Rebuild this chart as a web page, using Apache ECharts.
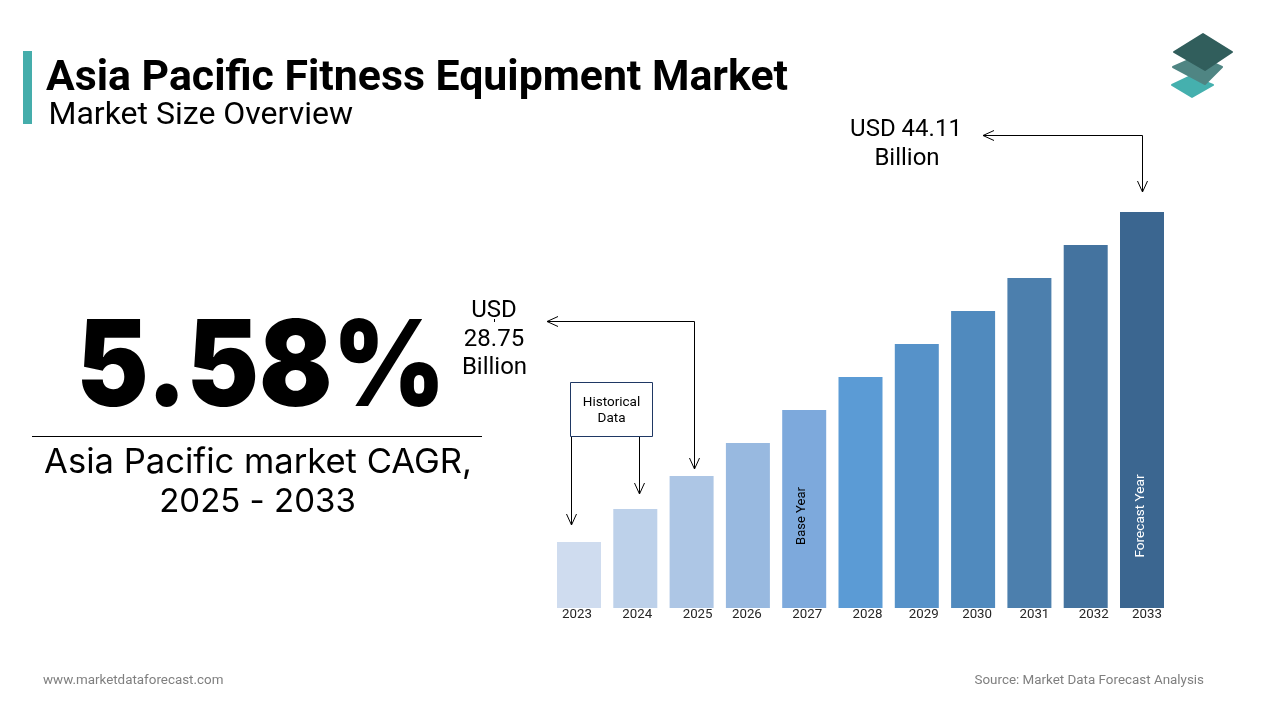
<!DOCTYPE html>
<html>
<head>
<meta charset="utf-8">
<title>Asia Pacific Fitness Equipment Market</title>
<style>
	html, body { margin: 0; padding: 0; background: #fff; }
	#chart { width: 1280px; height: 720px; }
</style>
<script src="https://cdn.jsdelivr.net/npm/echarts@6/dist/echarts.min.js"></script>
</head>
<body>
<div id="chart"></div>
<script>
// values (bars have no printed scale, so relative heights)
var years = ['2023', '2024', '2025', '2026', '2027', '2028', '2029', '2030', '2031', '2032', '2033'];
var marketSize = [66, 99, 132, 165, 198, 231, 264, 297, 330, 363, 396];
var barColors = ['#CFDCEF', '#BDD1EA', '#ADC6E5', '#98B9E0', '#7DA9DC', '#5B9BD5', '#5692C9', '#508ABE', '#4C7FAD', '#44739F', '#3B6690'];
// year labels sit a little off centre in the original
var labelNudge = [-2, 2, 6, -1, 3, 7, 7, 4, 5, 8, 5];

var FONT = 'Roboto';
var BIG_FONT = 'Inter';

function text(x, y, str, size, opt) {
	opt = opt || {};
	return {
		type: 'text',
		x: x,
		y: y,
		scaleX: opt.scaleX || 1,
		rotation: opt.rotation || 0,
		z: 10,
		style: {
			text: str,
			fontFamily: opt.font || FONT,
			fontSize: size,
			fontWeight: opt.weight || 'normal',
			fill: opt.color || '#000',
			align: opt.align || 'center',
			verticalAlign: 'middle'
		}
	};
}

function line(points, color) {
	return {
		type: 'polyline',
		z: 9,
		shape: { points: points },
		style: { stroke: color || '#000', lineWidth: 1, fill: null }
	};
}

// open arrow head, dir is the way it points
function head(x, y, dir) {
	var pts = dir == 'down'
		? [[x - 5, y - 11], [x, y], [x + 5, y - 11]]
		: [[x + 11, y - 5], [x, y], [x + 11, y + 5]];
	return line(pts);
}

function plate(points, color) {
	return {
		type: 'polygon',
		z: 5,
		shape: { points: points },
		style: { fill: color, stroke: color, lineWidth: 2, lineJoin: 'round' }
	};
}

var graphics = [
	// heading
	{ type: 'rect', shape: { x: 23, y: 51, width: 9, height: 73 }, style: { fill: '#45ADAB' } },
	text(46, 79, 'Asia Pacific Fitness Equipment Market', 42.8, { weight: 'bold', align: 'left' }),
	text(48.5, 116, 'Market Size Overview', 32, { align: 'left' }),

	// logo
	plate([[1191, 76], [1213, 85], [1192, 97], [1172, 85]], '#45B0AE'),
	plate([[1198, 56], [1222, 67], [1205, 84], [1173, 67]], '#4F8583'),
	plate([[1203, 34], [1232, 52], [1205, 70], [1174, 52]], '#315E5C'),

	// CAGR block
	text(261, 370, '5.58%', 119, { font: BIG_FONT, weight: 900, scaleX: 0.91 }),
	line([[32, 436.5], [482, 436.5]]),
	text(258, 463, 'Asia Pacific market CAGR,', 34.6, { font: BIG_FONT }),
	text(257.5, 502, '2025 - 2033', 33, { font: BIG_FONT }),

	// callouts
	text(906, 130, 'USD 44.11', 24),
	text(907, 159, 'Billion', 24),
	line([[983, 135.5], [1142.5, 135.5], [1142.5, 192]]),
	head(983, 135.5, 'left'),
	head(1142.5, 192, 'down'),

	text(494, 311, 'USD', 24),
	text(494, 340, '28.75', 24),
	text(494.5, 368, 'Billion', 24),
	line([[494.5, 319], [494.5, 322]]),
	line([[547, 321.5], [694.5, 321.5], [694.5, 469]]),
	head(547, 321.5, 'left'),
	head(694.5, 469, 'down'),

	// historical data box
	{
		type: 'rect',
		z: 9,
		shape: { x: 570.5, y: 382.5, width: 82, height: 54 },
		style: { fill: '#fff', stroke: '#1F3864', lineWidth: 1 }
	},
	text(611.5, 403, 'Historical', 13.5),
	text(611.5, 419, 'Data', 13.5),
	line([[571.5, 437], [571.5, 525]]),
	head(571.5, 525, 'down'),
	line([[639.5, 437], [639.5, 494]]),
	head(639.5, 494, 'down'),

	// notes inside the bars
	text(802, 516, 'Base Year', 13, { rotation: Math.PI / 2 }),
	text(1141, 516, 'Forecast Year', 13.6, { rotation: Math.PI / 2, color: '#fff' }),

	// footer
	text(43, 681, 'www.marketdataforecast.com', 13.4, { align: 'left', color: '#7F7F7F' }),
	text(1204, 681, 'Source: Market Data Forecast Analysis', 13.4, { align: 'right', color: '#7F7F7F' })
];

var yearStyles = {};
for (var i = 0; i < years.length; i++) {
	var nudge = labelNudge[i] * 2;
	yearStyles['y' + i] = {
		fontFamily: FONT,
		fontSize: 13.3,
		color: '#262626',
		padding: nudge > 0 ? [0, 0, 0, nudge] : [0, -nudge, 0, 0]
	};
}

var chart = echarts.init(document.getElementById('chart'), null, { renderer: 'canvas' });
chart.setOption({
	animation: false,
	backgroundColor: '#fff',
	graphic: graphics,
	grid: { left: 550.85, top: 212, width: 619.3, height: 396 },
	xAxis: {
		type: 'category',
		data: years,
		axisLine: { show: false },
		axisTick: { show: false },
		axisLabel: {
			interval: 0,
			margin: 0,
			hideOverlap: false,
			formatter: function(value, index) {
				return '{y' + index + '|' + value + '}';
			},
			rich: yearStyles
		}
	},
	yAxis: { type: 'value', min: 0, max: 396, show: false, splitLine: { show: false } },
	series: [{
		type: 'bar',
		barWidth: 44,
		data: marketSize.map(function(v, i) {
			return { value: v, itemStyle: { color: barColors[i] } };
		})
	}]
});
</script>
</body>
</html>
